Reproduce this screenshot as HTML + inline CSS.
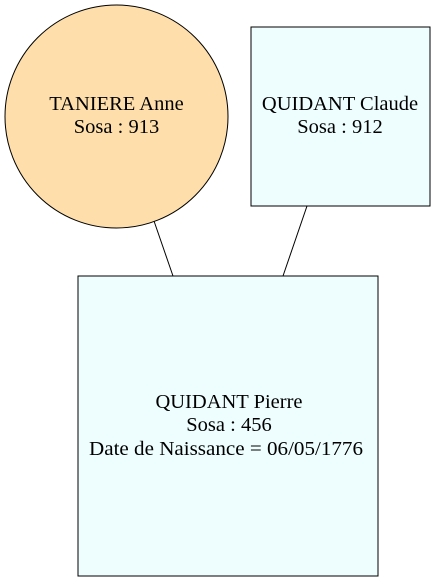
<!DOCTYPE html>
<html><head><style>body{margin:0;background:#fff}</style></head><body>
<svg width="435" height="581" xmlns="http://www.w3.org/2000/svg" font-family="Liberation Serif, serif" font-size="20.5">
<rect width="435" height="581" fill="#fff"/>
<line x1="154" y1="221" x2="173" y2="276" stroke="#000"/>
<line x1="307" y1="206" x2="283" y2="276" stroke="#000"/>
<circle cx="116.5" cy="116.5" r="111.5" fill="#fedfac" stroke="#000"/>
<rect x="251" y="27" width="179" height="179" fill="#eefefe" stroke="#000"/>
<rect x="78" y="276" width="300" height="300" fill="#eefefe" stroke="#000"/>
<g text-anchor="middle">
<text x="116.5" y="110">TANIERE Anne</text>
<text x="116.5" y="133">Sosa : 913</text>
<text x="340" y="110">QUIDANT Claude</text>
<text x="340" y="133">Sosa : 912</text>
<text x="229" y="408">QUIDANT Pierre</text>
<text x="229" y="431">Sosa : 456</text>
<text x="226" y="455" textLength="274" lengthAdjust="spacingAndGlyphs">Date de Naissance = 06/05/1776</text>
</g>
</svg>
</body></html>
